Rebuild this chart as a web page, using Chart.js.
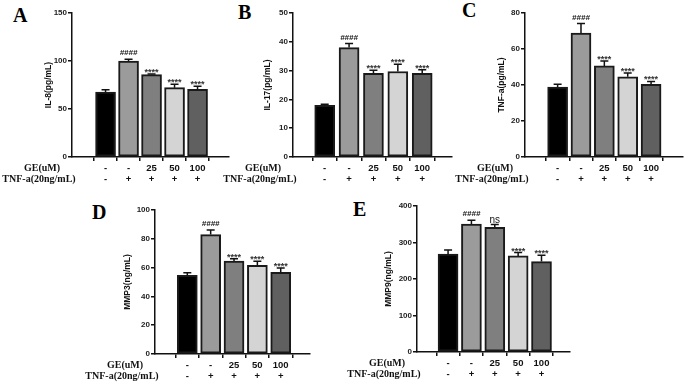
<!DOCTYPE html>
<html>
<head>
<meta charset="utf-8">
<script src="https://cdn.jsdelivr.net/npm/chart.js@4.4.1/dist/chart.umd.min.js"></script>
<style>
  body { margin:0; width:685px; height:384px; background:#fff; position:relative; overflow:hidden; }
  canvas { position:absolute; }
  .tag { position:absolute; font:bold 20px "Liberation Serif", "Times New Roman", serif; line-height:1; color:#000; }
</style>
</head>
<body>
<div class="tag" style="left:13px;top:5px">A</div>
<div class="tag" style="left:238px;top:2px">B</div>
<div class="tag" style="left:462px;top:0px">C</div>
<div class="tag" style="left:92px;top:202px">D</div>
<div class="tag" style="left:353px;top:199px">E</div>

<canvas id="cA"></canvas>
<canvas id="cB"></canvas>
<canvas id="cC"></canvas>
<canvas id="cD"></canvas>
<canvas id="cE"></canvas>

<script>
// groups
const geLabels  = ['-', '-', '25', '50', '100'];
const tnfLabels = ['-', '+', '+', '+', '+'];
const barColors = ['#000000', '#9b9b9b', '#7f7f7f', '#d4d4d4', '#606060'];

// IL-8 (pg/mL)
const il8Mean = [67.7, 100, 85.8, 72.2, 70.5];
const il8Err  = [2.4, 1.7, 0.7, 3.5, 3.1];
const il8Sig  = ['', '####', '****', '****', '****'];

// IL-17 (pg/mL)
const il17Mean = [17.9, 38.0, 29.05, 29.7, 29.05];
const il17Err  = [0.4, 1.4, 1.05, 2.5, 1.25];
const il17Sig  = ['', '####', '****', '****', '****'];

// TNF-a (pg/mL)
const tnfMean = [38.9, 68.9, 50.6, 44.6, 40.4];
const tnfErr  = [1.5, 5.2, 2.7, 2.1, 1.6];
const tnfSig  = ['', '####', '****', '****', '****'];

// MMP3 (ng/mL)
const mmp3Mean = [54.6, 82.9, 64.6, 61.6, 56.7];
const mmp3Err  = [1.9, 3.2, 1.6, 2.8, 3.0];
const mmp3Sig  = ['', '####', '****', '****', '****'];

// MMP9 (ng/mL)
const mmp9Mean = [268, 350.8, 341.7, 263.3, 247.8];
const mmp9Err  = [11.7, 10, 7.3, 9.1, 17.2];
const mmp9Sig  = ['', '####', 'ns', '****', '****'];

const SANS = '"Liberation Sans", Arial, sans-serif';
const SERIF = '"Liberation Serif", "Times New Roman", serif';
const YW = 72, PT = 8, PR = 6, XH = 30;

// error bars, significance marks, axis title, group rows
const extras = {
  id: 'extras',
  afterDatasetsDraw(chart, args, o) {
    const { ctx, chartArea: a, scales: { x, y } } = chart;
    ctx.save();
    ctx.strokeStyle = '#111';
    ctx.fillStyle = '#111';
    ctx.lineWidth = 1.5;
    o.mean.forEach((m, i) => {
      const cx = x.getPixelForValue(i);
      const y0 = y.getPixelForValue(m);
      const y1 = y.getPixelForValue(m + o.err[i]);
      ctx.beginPath();
      ctx.moveTo(cx, y0); ctx.lineTo(cx, y1);
      ctx.moveTo(cx - 4, y1); ctx.lineTo(cx + 4, y1);
      ctx.stroke();
      const s = o.sig[i];
      ctx.textAlign = 'center';
      ctx.textBaseline = 'alphabetic';
      if (s === '####') {
        ctx.font = 'italic bold 8px ' + SANS;
        ctx.fillText(s, cx, y1 - 4);
      } else if (s === '****') {
        ctx.fillStyle = '#333';
        ctx.font = 'bold 9px ' + SANS;
        ctx.fillText(s, cx, y1 + 1);
        ctx.fillStyle = '#111';
      } else if (s === 'ns') {
        ctx.font = '10px ' + SANS;
        ctx.fillText(s, cx, y1 - 2);
      }
    });

    // y title
    ctx.save();
    ctx.translate(a.left - o.titleOff, (a.top + a.bottom) / 2);
    ctx.rotate(-Math.PI / 2);
    ctx.font = 'bold 8.5px ' + SANS;
    ctx.textAlign = 'center';
    ctx.textBaseline = 'middle';
    ctx.fillStyle = '#111';
    ctx.fillText(o.title, 0, 0);
    ctx.restore();

    // treatment rows
    ctx.textBaseline = 'middle';
    ctx.textAlign = 'center';
    ctx.font = 'bold 10px ' + SERIF;
    ctx.fillText('GE(uM)', a.left - 30, a.bottom + 11);
    ctx.fillText('TNF-a(20ng/mL)', a.left - 33, a.bottom + 22);
    ctx.font = 'bold 9.5px ' + SANS;
    geLabels.forEach((t, i) => ctx.fillText(t, x.getPixelForValue(i), a.bottom + 11));
    tnfLabels.forEach((t, i) => ctx.fillText(t, x.getPixelForValue(i), a.bottom + 22));
    ctx.restore();
  }
};

function panel(id, box, mean, err, sig, title, titleOff, yMax, yStep) {
  const cv = document.getElementById(id);
  const w = (box.x1 - box.axisX) + YW + PR;
  const h = (box.yBot - box.yTop) + PT + XH;
  cv.width = w; cv.height = h;
  cv.style.left = (box.axisX - YW) + 'px';
  cv.style.top = (box.yTop - PT) + 'px';
  cv.style.width = w + 'px'; cv.style.height = h + 'px';

  new Chart(cv, {
    type: 'bar',
    data: {
      datasets: [{
        data: mean.map((v, i) => ({ x: i, y: v })),
        backgroundColor: barColors,
        borderColor: '#1a1a1a',
        borderWidth: 2,
        borderSkipped: false,
        barThickness: 20
      }]
    },
    options: {
      responsive: false,
      animation: false,
      devicePixelRatio: 1,
      layout: { padding: { top: PT, right: PR, left: 0, bottom: 0 } },
      plugins: {
        legend: { display: false },
        tooltip: { enabled: false },
        extras: { mean, err, sig, title, titleOff }
      },
      scales: {
        x: {
          type: 'linear',
          min: box.min, max: box.max,
          afterBuildTicks: s => { s.ticks = mean.map((_, i) => ({ value: i })); },
          afterFit: s => { s.height = XH; },
          ticks: { display: false },
          grid: { drawOnChartArea: false, drawTicks: true, tickLength: 4, color: '#111', lineWidth: 1.5 },
          border: { display: true, color: '#111', width: 1.5 }
        },
        y: {
          min: 0, max: yMax,
          afterFit: s => { s.width = YW; },
          ticks: { stepSize: yStep, padding: 1, color: '#222', font: { family: SANS, size: 8, weight: 'bold' } },
          grid: { drawOnChartArea: false, drawTicks: true, tickLength: 4, color: '#111', lineWidth: 1.5 },
          border: { display: true, color: '#111', width: 1.5 }
        }
      }
    },
    plugins: [extras]
  });
}

panel('cA', { axisX: 72,  x1: 229, yTop: 12.7, yBot: 156.7, min: -0.776, max: 4.685 }, il8Mean,  il8Err,  il8Sig,  'IL-8(pg/mL)',  23, 150, 50);
panel('cB', { axisX: 293, x1: 452, yTop: 12.7, yBot: 156.7, min: -0.648, max: 4.57  }, il17Mean, il17Err, il17Sig, 'IL-17(pg/mL)', 25, 50, 10);
panel('cC', { axisX: 525, x1: 683, yTop: 12.7, yBot: 156.7, min: -0.72,  max: 4.69  }, tnfMean,  tnfErr,  tnfSig,  'TNF-a(pg/mL)', 23, 80, 20);
panel('cD', { axisX: 155, x1: 310, yTop: 210,  yBot: 354,   min: -0.72,  max: 4.59  }, mmp3Mean, mmp3Err, mmp3Sig, 'MMP3(ng/mL)',  27, 100, 20);
panel('cE', { axisX: 417, x1: 570, yTop: 206,  yBot: 352,   min: -0.675, max: 4.565 }, mmp9Mean, mmp9Err, mmp9Sig, 'MMP9(ng/mL)',  28, 400, 100);
</script>
</body>
</html>
